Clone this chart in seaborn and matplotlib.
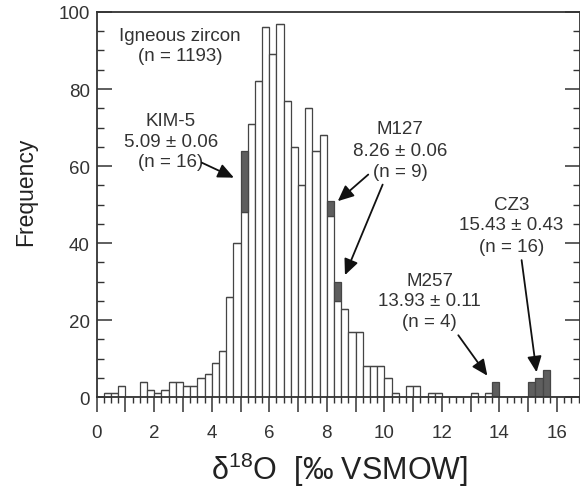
import numpy as np
import pandas as pd
import matplotlib
matplotlib.use("Agg")
import matplotlib.pyplot as plt
from matplotlib.ticker import MultipleLocator, FixedLocator
import seaborn as sns

# ---- data (counts per 0.25 permil bin, starting at 0.0) ----
bin_width = 0.25
igneous_counts = [0, 1, 1, 3, 0, 0, 4, 2, 1, 2, 4, 4, 3, 3, 5, 6, 9, 12,
                  26, 40, 48, 71, 82, 96, 89, 97, 77, 65, 55, 75, 64, 68,
                  47, 25, 23, 17, 17, 8, 8, 8, 5, 1,
                  0, 3, 3, 0, 1, 1, 0, 0, 0, 0, 1, 0, 1, 0,
                  0, 0, 0, 0, 0, 0, 0, 0, 0, 0, 0]
standard_counts = [0] * 67
standard_bins = [20, 32, 33, 55, 60, 61, 62]
standard_vals = [16, 4, 5, 4, 4, 5, 7]
for b, v in zip(standard_bins, standard_vals):
    standard_counts[b] = v

xticks = [0, 2, 4, 6, 8, 10, 12, 14, 16]
yticks = [0, 20, 40, 60, 80, 100]

n_bins = len(igneous_counts)
centers = (np.arange(n_bins) + 0.5) * bin_width

df = pd.DataFrame({
    "d18O": np.concatenate([centers, centers]),
    "count": igneous_counts + standard_counts,
    "group": ["igneous"] * n_bins + ["standard"] * n_bins,
})

sns.set_theme(style="ticks")
plt.rcParams["font.family"] = ["Liberation Sans", "DejaVu Sans"]
plt.rcParams["mathtext.fontset"] = "custom"
plt.rcParams["mathtext.rm"] = "Liberation Sans"
plt.rcParams["mathtext.default"] = "regular"

fig = plt.figure(figsize=(5.8, 4.89), dpi=100)
ax = fig.add_axes([0.1667, 0.1855, 0.8333, 0.788])

sns.histplot(data=df, x="d18O", weights="count", hue="group",
             hue_order=["standard", "igneous"], multiple="stack",
             binwidth=bin_width, binrange=(0, n_bins * bin_width),
             palette={"igneous": "white", "standard": "#5e5e5e"},
             alpha=1, edgecolor="#454545", linewidth=0.9, legend=False, ax=ax)

ax.set_xlim(0, 16.8)
ax.set_ylim(0, 100)
ax.xaxis.set_minor_locator(MultipleLocator(0.25))
ax.set_xticks(np.arange(0, 17, 1.0))
ax.set_xticklabels([str(int(t)) if int(t) in xticks else "" for t in np.arange(0, 17, 1.0)])
ax.yaxis.set_major_locator(FixedLocator(yticks))
ax.yaxis.set_minor_locator(MultipleLocator(5))
ax.tick_params(axis="x", which="major", direction="out", length=11, width=1.1,
               labelsize=13.5, pad=8, colors="#333333")
ax.tick_params(axis="x", which="minor", direction="out", length=4.5, width=1.0,
               colors="#333333")
ax.tick_params(axis="y", which="major", direction="in", length=11, width=1.1,
               labelsize=13.5, pad=5, colors="#333333", right=True)
ax.tick_params(axis="y", which="minor", direction="in", length=5, width=1.0,
               colors="#333333", right=True)
for s in ax.spines.values():
    s.set_visible(True)
    s.set_linewidth(1.3)
    s.set_color("#333333")

ax.set_ylabel("Frequency", fontsize=16.5, color="#222222")
ax.yaxis.label.set_va("center")
ax.yaxis.set_label_coords(-0.148, 0.537)
ax.set_xlabel("δ$^{18}$O  [‰ VSMOW]", fontsize=22, color="#222222")
ax.xaxis.label.set_va("center")
ax.xaxis.set_label_coords(0.503, -0.185)

tc = "#333333"
fs = 13.5

def label(x, ys, lines):
    for y, t in zip(ys, lines):
        ax.text(x, y, t, ha="center", va="center", fontsize=fs, color=tc)

label(2.9, [93.9, 88.7], ["Igneous zircon", "(n = 1193)"])
label(2.58, [71.9, 66.5, 61.1], ["KIM-5", "5.09 ± 0.06", "(n = 16)"])
label(10.55, [69.7, 64.1, 58.5], ["M127", "8.26 ± 0.06", "(n = 9)"])
label(11.58, [30.4, 25.2, 19.6], ["M257", "13.93 ± 0.11", "(n = 4)"])
label(14.42, [50.0, 44.8, 39.1], ["CZ3", "15.43 ± 0.43", "(n = 16)"])

arrow = dict(arrowstyle="-|>,head_length=0.6,head_width=0.27", color="#111111",
             lw=1.3, mutation_scale=16, shrinkA=0, shrinkB=0)
for tail, head in [((3.65, 60.9), (4.77, 57.0)),
                   ((9.44, 57.8), (8.38, 50.9)),
                   ((9.94, 55.2), (8.63, 31.7)),
                   ((12.57, 16.1), (13.58, 5.6)),
                   ((14.77, 35.6), (15.29, 6.5))]:
    ax.annotate("", xy=head, xytext=tail, arrowprops=arrow)

fig.savefig("out.png", dpi=100)
